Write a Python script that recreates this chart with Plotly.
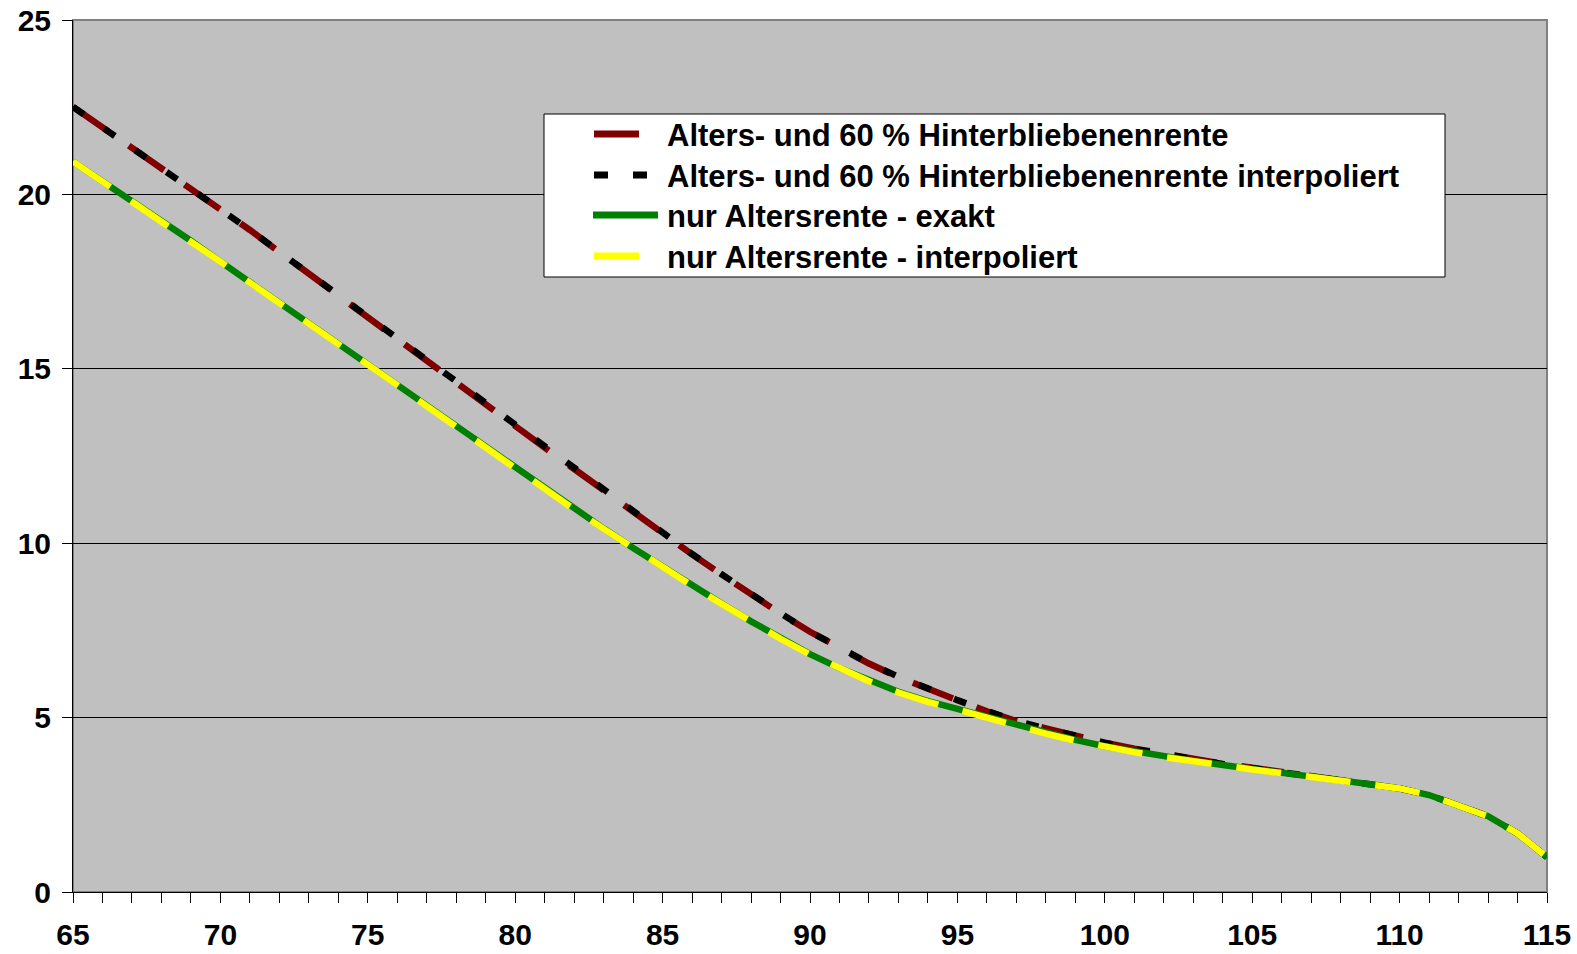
import plotly.graph_objects as go

ages = list(range(65, 116))

hinter_exakt = [22.51, 21.93, 21.35, 20.77, 20.19, 19.60, 18.98, 18.35, 17.72, 17.10,
                16.47, 15.85, 15.23, 14.61, 13.98, 13.36, 12.74, 12.12, 11.50, 10.88,
                10.27, 9.68, 9.10, 8.53, 7.98, 7.46, 6.98, 6.55, 6.16, 5.81,
                5.50, 5.18, 4.90, 4.69, 4.48, 4.28, 4.11, 3.96, 3.82, 3.68,
                3.56, 3.44, 3.32, 3.21, 3.09, 2.97, 2.78, 2.49, 2.17, 1.68, 1.00]

hinter_interp = [22.51, 21.92, 21.34, 20.76, 20.18, 19.60, 18.98, 18.35, 17.73, 17.10,
                 16.47, 15.85, 15.23, 14.60, 13.98, 13.36, 12.74, 12.12, 11.51, 10.89,
                 10.27, 9.69, 9.11, 8.54, 7.99, 7.46, 6.99, 6.56, 6.17, 5.82,
                 5.50, 5.19, 4.91, 4.68, 4.47, 4.28, 4.10, 3.95, 3.81, 3.67,
                 3.55, 3.43, 3.31, 3.20, 3.08, 2.97, 2.78, 2.49, 2.17, 1.68, 1.00]

alters_exakt = [20.94, 20.38, 19.82, 19.25, 18.67, 18.07, 17.48, 16.90, 16.31, 15.73,
                15.14, 14.54, 13.94, 13.34, 12.74, 12.15, 11.56, 10.98, 10.42, 9.86,
                9.32, 8.79, 8.27, 7.76, 7.27, 6.82, 6.42, 6.06, 5.74, 5.47,
                5.25, 5.01, 4.78, 4.56, 4.36, 4.18, 4.03, 3.89, 3.76, 3.64,
                3.52, 3.42, 3.31, 3.20, 3.09, 2.97, 2.78, 2.49, 2.17, 1.68, 1.00]

alters_interp = [20.94, 20.37, 19.81, 19.24, 18.66, 18.07, 17.47, 16.89, 16.30, 15.72,
                 15.14, 14.53, 13.93, 13.33, 12.73, 12.15, 11.55, 10.97, 10.41, 9.85,
                 9.32, 8.78, 8.26, 7.75, 7.26, 6.81, 6.40, 6.04, 5.72, 5.45,
                 5.23, 4.99, 4.76, 4.54, 4.34, 4.16, 4.01, 3.87, 3.74, 3.62,
                 3.51, 3.41, 3.30, 3.19, 3.08, 2.97, 2.78, 2.49, 2.17, 1.68, 1.00]

names = ["Alters- und 60 % Hinterbliebenenrente",
         "Alters- und 60 % Hinterbliebenenrente interpoliert",
         "nur Altersrente - exakt",
         "nur Altersrente - interpoliert"]
colors = ["#800000", "#000000", "#008000", "#FFFF00"]
dashes = ["43px,25px", "13px,25px", "solid", "45px,25px"]
series = [hinter_exakt, hinter_interp, alters_exakt, alters_interp]

FONT = "Liberation Sans, Arial, sans-serif"
LW = 6.5

fig = go.Figure()
for nm, col, ds, ys in zip(names, colors, dashes, series):
    fig.add_trace(go.Scatter(x=ages, y=ys, mode="lines", name=nm, showlegend=False,
                             line=dict(color=col, width=LW, dash=ds)))

L, R, T, B = 73, 1547, 20, 892
W, H = 1577, 954
pw, ph = R - L, B - T


def px_x(p):
    return (p - L) / pw


def px_y(p):
    return (B - p) / ph


shapes = [
    dict(type="rect", xref="paper", yref="paper", x0=0, x1=1, y0=0, y1=1,
         line=dict(color="#808080", width=2), fillcolor="rgba(0,0,0,0)", layer="below"),
    dict(type="rect", xref="paper", yref="paper",
         x0=px_x(544), x1=px_x(1445), y0=px_y(277), y1=px_y(114),
         line=dict(color="black", width=1), fillcolor="white", layer="above"),
]
annotations = []

# legend drawn inside the white box
row_y = [134, 175, 215, 256]
sample_x = [(594, 639), (594, 647), (593, 658), (594, 639)]
for i in range(4):
    x0, x1 = sample_x[i]
    shapes.append(dict(type="line", xref="paper", yref="paper",
                       x0=px_x(x0), x1=px_x(x1), y0=px_y(row_y[i]), y1=px_y(row_y[i]),
                       line=dict(color=colors[i], width=7,
                                 dash=("14px,25px" if i == 1 else "solid")),
                       layer="above"))
    annotations.append(dict(xref="paper", yref="paper", x=px_x(665), y=px_y(row_y[i] + 1),
                            xanchor="left", yanchor="middle", showarrow=False,
                            text=names[i],
                            font=dict(family=FONT, size=31, color="black", weight="bold")))

fig.update_layout(
    width=W, height=H,
    margin=dict(l=L, r=W - R, t=T, b=H - B, pad=0),
    paper_bgcolor="white",
    plot_bgcolor="#C0C0C0",
    font=dict(family=FONT, size=30, color="black"),
    showlegend=False,
    xaxis=dict(range=[65, 115], dtick=5, tick0=65, showgrid=False, zeroline=False,
               automargin=False,
               showline=True, linecolor="black", linewidth=1,
               ticks="outside", ticklen=10, tickcolor="black", tickwidth=1,
               minor=dict(dtick=1, ticks="outside", ticklen=10, tickcolor="black", tickwidth=1),
               tickfont=dict(family=FONT, size=30, color="black", weight="bold"),
               ticklabelstandoff=6),
    yaxis=dict(range=[0, 25], dtick=5, tick0=0, showgrid=True, gridcolor="black", gridwidth=1,
               automargin=False,
               zeroline=False, showline=True, linecolor="black", linewidth=1,
               ticks="outside", ticklen=10, tickcolor="black", tickwidth=1,
               tickfont=dict(family=FONT, size=30, color="black", weight="bold"),
               ticklabelstandoff=5),
    shapes=shapes,
    annotations=annotations,
)

fig.write_html("out.html")
